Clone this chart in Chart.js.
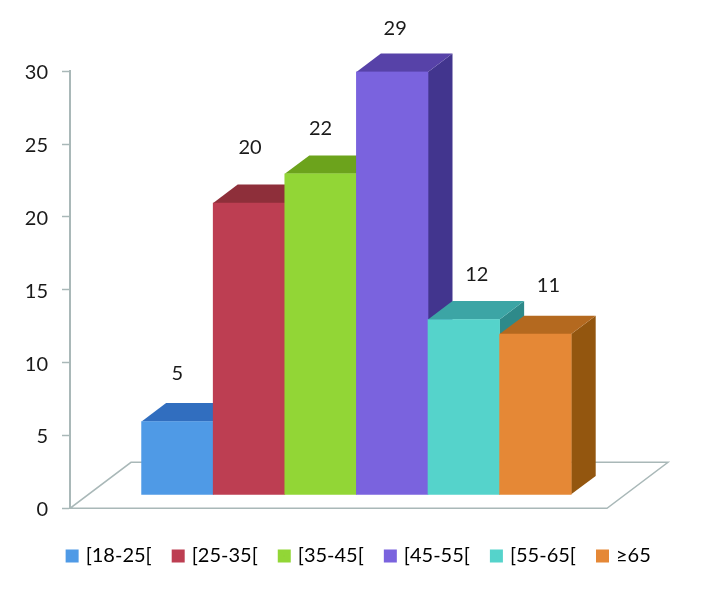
<!DOCTYPE html>
<html>
<head>
<meta charset="utf-8">
<style>html,body{margin:0;padding:0;background:#fff}canvas{display:block}</style>
<script src="https://cdn.jsdelivr.net/npm/chart.js@4/dist/chart.umd.min.js"></script>
</head>
<body>
<canvas id="c" width="701" height="590"></canvas>
<script>
const categories = ['[18-25[', '[25-35[', '[35-45[', '[45-55[', '[55-65[', '≥65'];
const values = [5, 20, 22, 29, 12, 11];
const axisTicks = [0, 5, 10, 15, 20, 25, 30];
const frontColors = ['#4F9AE6', '#BD3E52', '#92D636', '#7A63DE', '#55D3CB', '#E58836'];
const topColors = ['#316EBF', '#8E2F3A', '#6CA31C', '#5742A8', '#3CA5A5', '#B4691F'];
const sideColors = ['#2A5C9E', '#752630', '#588A15', '#42358E', '#2E8A8A', '#93560F'];
const labelShiftX = [0, 1, 0, 3, 13, 13];
const labelShiftY = [-48, -55, -45, -43, -45, -49];

const AXIS = '#A9B8B8';
const DEPTH_X = 24.5, DEPTH_Y = 18.4;
const FONT = 'Lato, Carlito, sans-serif';

const scene3d = {
  id: 'scene3d',
  beforeDatasetsDraw(chart) {
    const {ctx, chartArea: a} = chart;
    const m = chart.getDatasetMeta(0);
    // floor
    ctx.save();
    ctx.strokeStyle = AXIS;
    ctx.lineWidth = 1.5;
    ctx.beginPath();
    ctx.moveTo(a.left, a.bottom);
    ctx.lineTo(a.left + 537, a.bottom);
    ctx.lineTo(a.left + 598, a.bottom - 46);
    ctx.lineTo(a.left + 61, a.bottom - 46);
    ctx.closePath();
    ctx.stroke();
    // depth faces, left to right
    m.data.forEach((bar, k) => {
      const i = k - 1;
      if (i < 0 || i >= values.length) return;
      const p = bar.getProps(['x', 'y', 'base', 'width'], true);
      const l = p.x - p.width / 2, r = p.x + p.width / 2;
      ctx.fillStyle = sideColors[i];
      ctx.beginPath();
      ctx.moveTo(r, p.y);
      ctx.lineTo(r + DEPTH_X, p.y - DEPTH_Y);
      ctx.lineTo(r + DEPTH_X, p.base - DEPTH_Y);
      ctx.lineTo(r, p.base);
      ctx.closePath();
      ctx.fill();
      ctx.fillStyle = topColors[i];
      ctx.beginPath();
      ctx.moveTo(l, p.y);
      ctx.lineTo(l + DEPTH_X, p.y - DEPTH_Y);
      ctx.lineTo(r + DEPTH_X, p.y - DEPTH_Y);
      ctx.lineTo(r, p.y);
      ctx.closePath();
      ctx.fill();
    });
    ctx.restore();
  },
  afterDatasetsDraw(chart) {
    const {ctx} = chart;
    const m = chart.getDatasetMeta(0);
    ctx.save();
    ctx.font = '20px ' + FONT;
    ctx.fillStyle = '#1a1a1a';
    ctx.textAlign = 'center';
    ctx.textBaseline = 'middle';
    m.data.forEach((bar, k) => {
      const i = k - 1;
      if (i < 0 || i >= values.length) return;
      const p = bar.getProps(['x', 'y'], true);
      ctx.fillText(String(values[i]), p.x + labelShiftX[i], p.y + labelShiftY[i]);
    });
    ctx.restore();
  }
};

new Chart(document.getElementById('c'), {
  type: 'bar',
  plugins: [scene3d],
  data: {
    labels: ['', ...categories, ''],
    datasets: [{
      data: [null, ...values, null],
      yAxisID: 'yFront',
      backgroundColor: ['#fff', ...frontColors, '#fff'],
      borderWidth: 0,
      barPercentage: 1,
      categoryPercentage: 1
    }]
  },
  options: {
    responsive: false,
    animation: false,
    devicePixelRatio: 1,
    layout: {padding: {top: 71.3, left: 18.4, right: 0, bottom: 14}},
    plugins: {
      tooltip: {enabled: false},
      legend: {
        position: 'bottom',
        align: 'center',
        labels: {
          font: {family: FONT, size: 20},
          color: '#1a1a1a',
          boxWidth: 7,
          boxHeight: 7,
          padding: 23,
          generateLabels: () => categories.map((t, i) => ({
            text: t,
            fillStyle: frontColors[i],
            strokeStyle: frontColors[i],
            lineWidth: 6,
            hidden: false,
            index: i
          }))
        }
      }
    },
    scales: {
      x: {
        display: true,
        grid: {display: false},
        border: {display: false},
        ticks: {display: false},
        afterFit: s => { s.height = 14.7; }
      },
      y: {
        position: 'left',
        min: 0, max: 30,
        afterBuildTicks: s => { s.ticks = axisTicks.map(v => ({value: v})); },
        afterFit: s => { s.width = 51.6; },
        grid: {drawOnChartArea: false, drawTicks: true, tickLength: 8, tickColor: AXIS, tickWidth: 1.5},
        border: {color: AXIS, width: 2},
        ticks: {font: {family: FONT, size: 20}, color: '#1a1a1a', padding: 14, labelOffset: 1.5}
      },
      yFront: {
        position: 'right',
        display: true,
        min: -0.96, max: 29.04,
        grid: {display: false},
        border: {display: false},
        ticks: {display: false},
        afterFit: s => { s.width = 58.2; }
      }
    }
  }
});
</script>
</body>
</html>
